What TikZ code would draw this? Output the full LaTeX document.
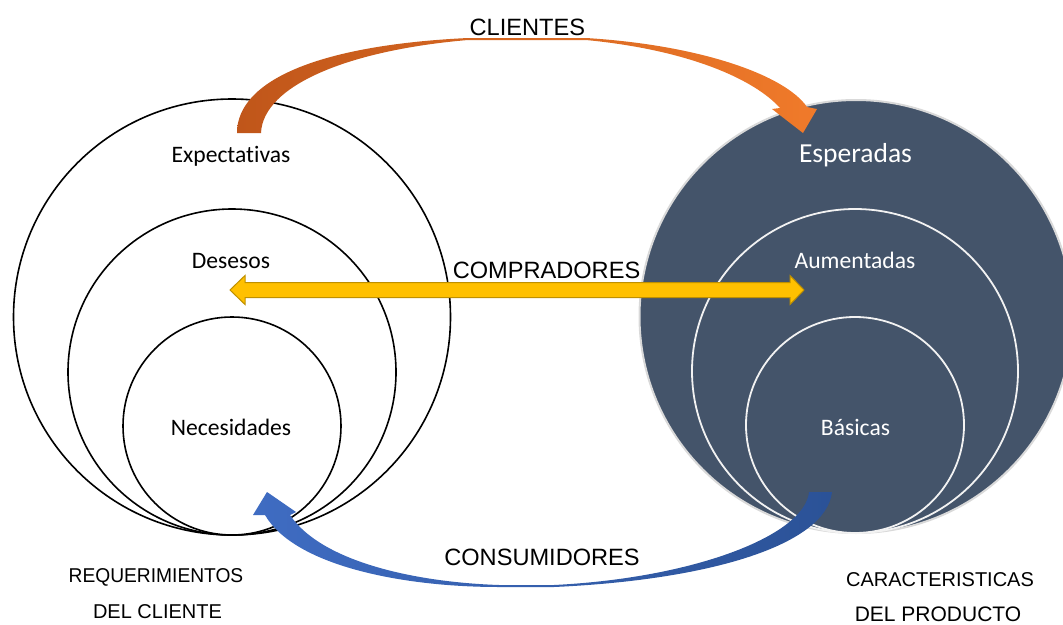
\documentclass[tikz,border=0pt]{standalone}
\usepackage{fontspec}
\setmainfont{Liberation Sans}
\newfontfamily\calfont[Ligatures=NoCommon]{Carlito}
\usetikzlibrary{shapes.geometric}
\definecolor{slate}{HTML}{44546A}
\definecolor{ringline}{HTML}{F2F2F2}
\definecolor{rimgray}{HTML}{D9D9D9}
\definecolor{goldfill}{HTML}{FFC000}
\definecolor{golddraw}{HTML}{BF9000}
\definecolor{orgdark}{HTML}{C0561A}
\definecolor{orglight}{HTML}{F07A2A}
\definecolor{bluelight}{HTML}{3F6CC2}
\definecolor{bluedark}{HTML}{2B5297}
\begin{document}
\begin{tikzpicture}[x=1pt,y=-1pt,
  lring/.style={ellipse,draw=black,line width=1.6pt,fill=white,inner sep=0pt},
  rring/.style={ellipse,draw=ringline,line width=1.8pt,fill=slate,inner sep=0pt},
  rout/.style={ellipse,draw=rimgray,line width=2pt,fill=slate,inner sep=0pt},
  clab/.style={font=\calfont\fontsize{23.6}{28}\selectfont,anchor=base,inner sep=0pt},
  ulab/.style={font=\fontsize{23.6}{28}\selectfont,anchor=base,inner sep=1pt,fill=white},
  slab/.style={font=\fontsize{20}{24}\selectfont,anchor=base,inner sep=0pt}
]
\useasboundingbox (0,0) rectangle (1063,624);
\begin{scope}
\clip (0,0) rectangle (1063,624);
% left rings
\node[lring,minimum width=437pt,minimum height=436pt] (L1) at (232,317) {};
\node[lring,minimum width=328pt,minimum height=326pt] (L2) at (232,372) {};
\node[lring,minimum width=218pt,minimum height=218pt] (L3) at (232,426) {};
% right rings
\node[rout,minimum width=433pt,minimum height=433pt] (R1) at (856,316.5) {};
\node[rring,minimum width=326pt,minimum height=324pt] (R2) at (855,371) {};
\node[rring,minimum width=218pt,minimum height=216pt] (R3) at (855,425) {};
\end{scope}
% ring labels
\node[clab] (exp) at (231,162) {Expectativas};
\node[clab] (des) at (231,268) {Desesos};
\node[clab] (nec) at (231,435) {Necesidades};
\node[clab,text=white,font=\calfont\fontsize{27.5}{32}\selectfont] (esp) at (855.5,162) {Esperadas};
\node[clab,text=white] (aum) at (855,268) {Aumentadas};
\node[clab,text=white] (bas) at (855.5,435) {Básicas};
% middle label (under arrow)
\node[ulab] (comp) at (546.5,278) {COMPRADORES};
% yellow double arrow
\draw[fill=goldfill,draw=golddraw,line width=1pt,line join=miter]
  (230,290) -- (245,275.5) -- (245,282.5) -- (790,282.5) -- (790,275.5) -- (804,290)
  -- (790,304.5) -- (790,297.5) -- (245,297.5) -- (245,304.5) -- cycle;
% orange curved arrow
\shade[left color=orgdark,right color=orglight]
  (237,133) .. controls (237,80) and (320,45) .. (468,38) -- (586,38)
  .. controls (700,45) and (785,75) .. (807,107) -- (817,109) -- (803,133) -- (772,109) -- (780,108)
  .. controls (755,80) and (690,50) .. (586,40) -- (468,40)
  .. controls (350,50) and (263,85) .. (261,133) -- cycle;
% blue curved arrow
\shade[left color=bluelight,right color=bluedark]
  (267,492) -- (296,512) -- (290,515) .. controls (320,560) and (410,582) .. (499,585)
  -- (554,585) .. controls (695,578) and (805,535) .. (809,492) -- (832,492)
  .. controls (826,545) and (710,580) .. (554,587) -- (499,587)
  .. controls (400,587) and (294,565) .. (265,515) -- (253,515) -- cycle;
% arrow labels
\node[ulab] (cli) at (527.4,35) {CLIENTES};
\node[ulab,fill=none] (cons) at (542,565) {CONSUMIDORES};
% captions
\node[slab] (req1) at (156,582) {\scalebox{0.96}[1]{REQUERIMIENTOS}};
\node[slab] (req2) at (157.5,618) {DEL CLIENTE};
\node[slab] (car1) at (940,586) {CARACTERISTICAS};
\node[slab,font=\fontsize{21}{24}\selectfont] (car2) at (938,621) {DEL PRODUCTO};
\end{tikzpicture}
\end{document}
